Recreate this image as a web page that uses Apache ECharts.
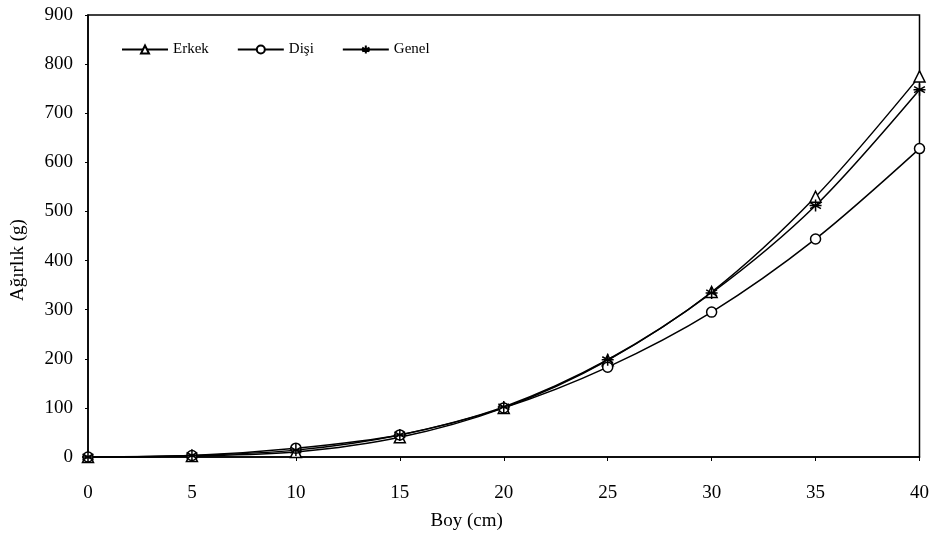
<!DOCTYPE html>
<html>
<head>
    <meta charset="UTF-8"/>
    <title>Boy - Ağırlık</title>
    <script src="https://cdn.jsdelivr.net/npm/echarts@6/dist/echarts.min.js"></script>
    <style>
        html, body { margin: 0; padding: 0; background: #fff; }
        #charts { width: 932px; height: 548px; }
    </style>
</head>
<body>
<div id="charts"></div>
<script>
    // boy (cm) değerleri
    var boy = [0, 5, 10, 15, 20, 25, 30, 35, 40];
    // ağırlık (g) değerleri
    var erkek = [0, 2, 10, 40, 100, 197, 336, 530, 775];
    var disi = [0, 3, 18, 45, 100, 183, 295, 444, 628];
    var genel = [0, 3, 14, 45, 102, 198, 334, 512, 748];

    function pairs(ys) {
        return boy.map(function (x, i) { return [x, ys[i]]; });
    }

    var font = 'Liberation Serif';
    var star = 'path://M0,-10L0,10M-9,-5L9,5M-9,5L9,-5M-10,0L10,0';

    var myChart = echarts.init(document.getElementById('charts'));

    var option = {
        animation: false,
        backgroundColor: '#fff',
        textStyle: { fontFamily: font, color: '#000' },
        legend: {
            left: 116,
            top: 37,
            itemWidth: 46,
            itemHeight: 10,
            itemGap: 28,
            textStyle: { fontFamily: font, fontSize: 15, color: '#000' },
            data: ['Erkek', 'Dişi', 'Genel']
        },
        grid: {
            left: 88,
            right: 11,
            top: 15,
            bottom: 91,
            show: true,
            borderColor: '#000',
            borderWidth: 1.5
        },
        xAxis: {
            type: 'value',
            min: 0,
            max: 40,
            interval: 5,
            name: 'Boy (cm)',
            nameLocation: 'middle',
            nameGap: 55,
            nameTextStyle: { fontFamily: font, fontSize: 19, color: '#000', padding: [0, 74, 0, 0] },
            axisLine: { lineStyle: { color: '#000', width: 1.5 } },
            axisTick: { show: true, length: 4, lineStyle: { color: '#000' } },
            axisLabel: { margin: 27, fontFamily: font, fontSize: 19, color: '#000' },
            splitLine: { show: false }
        },
        yAxis: {
            type: 'value',
            min: 0,
            max: 900,
            interval: 100,
            name: 'Ağırlık (g)',
            nameLocation: 'middle',
            nameGap: 60,
            nameTextStyle: { fontFamily: font, fontSize: 19, color: '#000', padding: [0, 48, 0, 0] },
            axisLine: { show: true, lineStyle: { color: '#000', width: 1.5 } },
            axisTick: { show: true, length: 3, lineStyle: { color: '#000' } },
            axisLabel: { margin: 15, fontFamily: font, fontSize: 19, color: '#000' },
            splitLine: { show: false }
        },
        series: [
            {
                name: 'Erkek',
                type: 'line',
                smooth: 0.3,
                symbol: 'triangle',
                symbolSize: 11,
                lineStyle: { color: '#000', width: 1.5 },
                itemStyle: { color: '#fff', borderColor: '#000', borderWidth: 1.5 },
                data: pairs(erkek)
            },
            {
                name: 'Dişi',
                type: 'line',
                smooth: 0.3,
                symbol: 'circle',
                symbolSize: 10,
                lineStyle: { color: '#000', width: 1.5 },
                itemStyle: { color: '#fff', borderColor: '#000', borderWidth: 1.5 },
                data: pairs(disi)
            },
            {
                name: 'Genel',
                type: 'line',
                smooth: 0.3,
                symbol: star,
                symbolSize: 12,
                lineStyle: { color: '#000', width: 1.5 },
                itemStyle: { color: '#000', borderColor: '#000', borderWidth: 1.5 },
                data: pairs(genel)
            }
        ]
    };

    myChart.setOption(option);
</script>
</body>
</html>
